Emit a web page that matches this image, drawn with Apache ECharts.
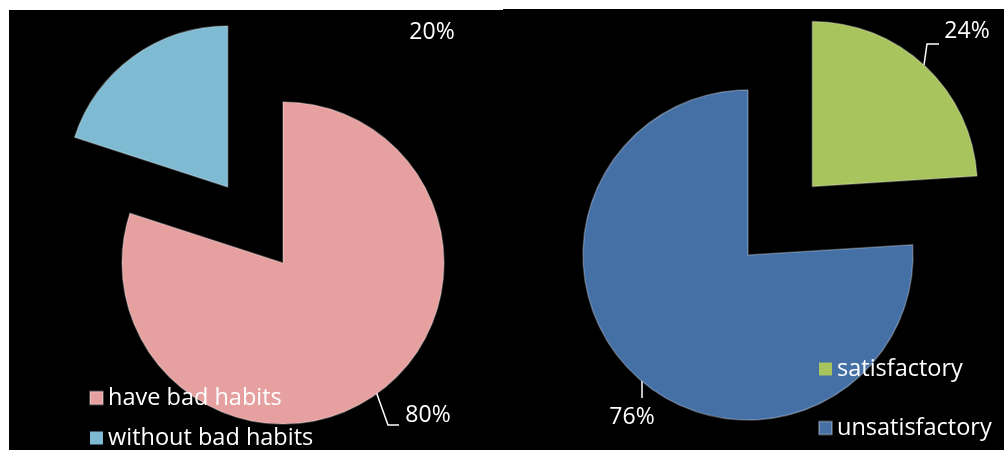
<!DOCTYPE html>
<html>
<head>
<meta charset="utf-8">
<script src="https://cdn.jsdelivr.net/npm/echarts@6/dist/echarts.min.js"></script>
<style>
html,body{margin:0;padding:0;background:#fff;}
#chart{width:1007px;height:450px;}
</style>
</head>
<body>
<div id="chart"></div>
<script>
// Data
const habitCategories = ['have bad habits', 'without bad habits'];
const habitValues = [80, 20];
const habitColors = ['#E6A0A0', '#7EBBD2'];

const satisfCategories = ['satisfactory', 'unsatisfactory'];
const satisfValues = [24, 76];
const satisfColors = ['#A8C45C', '#4570A6'];

const FONT = '"Open Sans", Lato, sans-serif';
const EXPLODE = 94;

// label placements (absolute, manually positioned as in the original)
const leftLabelPos = [
  { x: 428, y: 415, pts: [[373, 383], [388, 425], [399, 425]] },
  { x: 432, y: 32, pts: null }
];
const rightLabelPos = [
  { x: 967, y: 31, pts: [[924, 65], [927, 44], [939, 44]] },
  { x: 632, y: 417, pts: [[642, 368], [642, 398], [642, 398]] }
];

// center of an exploded slice, pushed out along its bisector
function explodedCenter(center, vals, idx, dist) {
  const total = vals.reduce((a, b) => a + b, 0);
  let before = 0;
  for (let i = 0; i < idx; i++) before += vals[i];
  const mid = (90 - 360 * before / total - 180 * vals[idx] / total) * Math.PI / 180;
  return [center[0] + Math.cos(mid) * dist, center[1] - Math.sin(mid) * dist];
}

function buildData(cats, vals, colors, visibleIdx, pos) {
  return cats.map((c, i) => {
    const vis = i === visibleIdx;
    return {
      name: c,
      value: vals[i],
      itemStyle: vis ? { color: colors[i] } : { color: 'rgba(0,0,0,0)', borderWidth: 0 },
      label: { show: vis },
      labelLine: { show: vis && !!pos[i].pts }
    };
  });
}

function layoutFn(posArr) {
  return function (params) {
    const p = posArr[params.dataIndex];
    const r = { x: p.x, y: p.y, align: 'center', verticalAlign: 'middle' };
    if (p.pts) r.labelLinePoints = p.pts;
    return r;
  };
}

function pieSeries(name, center, radius, cats, vals, colors, visibleIdx, pos) {
  return {
    type: 'pie',
    name: name,
    center: center,
    radius: radius,
    startAngle: 90,
    clockwise: true,
    selectedMode: false,
    emphasis: { disabled: true },
    silent: true,
    animation: false,
    itemStyle: { borderColor: 'rgba(255,255,255,0.28)', borderWidth: 1.5 },
    label: {
      show: true,
      formatter: '{c}%',
      color: '#fff',
      fontFamily: FONT,
      fontSize: 23,
      overflow: 'none',
      width: 80
    },
    labelLine: {
      show: true,
      lineStyle: { color: '#fff', width: 1.5 }
    },
    data: buildData(cats, vals, colors, visibleIdx, pos),
    labelLayout: layoutFn(pos)
  };
}

const leftCenter = [283, 263];
const rightCenter = [748, 255];

const chart = echarts.init(document.getElementById('chart'), null, { renderer: 'canvas' });

const legendText = { color: '#fff', fontFamily: FONT, fontSize: 23.5, lineHeight: 26 };

const option = {
  backgroundColor: '#fff',
  animation: false,
  graphic: [
    { type: 'rect', shape: { x: 9, y: 10, width: 494, height: 440 }, style: { fill: '#000' }, z: -10 },
    { type: 'rect', shape: { x: 503, y: 9, width: 501, height: 441 }, style: { fill: '#000' }, z: -10 }
  ],
  legend: [
    {
      data: habitCategories.map((c, i) => ({ name: c, itemStyle: { color: habitColors[i] } })),
      orient: 'vertical',
      left: 89, top: 385,
      width: 300, height: 120,
      padding: 0,
      itemWidth: 13, itemHeight: 13,
      itemGap: 14,
      icon: 'rect',
      selectedMode: false,
      textStyle: legendText
    },
    {
      data: satisfCategories.map((c, i) => ({ name: c, itemStyle: { color: satisfColors[i] } })),
      orient: 'vertical',
      left: 818, top: 356,
      width: 200, height: 120,
      padding: 0,
      itemWidth: 13, itemHeight: 13,
      itemGap: 33,
      icon: 'rect',
      selectedMode: false,
      textStyle: legendText
    }
  ],
  series: [
    pieSeries('habits', leftCenter, 161, habitCategories, habitValues, habitColors, 0, leftLabelPos),
    pieSeries('habits-exploded', explodedCenter(leftCenter, habitValues, 1, EXPLODE), 161,
      habitCategories, habitValues, habitColors, 1, leftLabelPos),
    pieSeries('satisfaction', rightCenter, 165, satisfCategories, satisfValues, satisfColors, 1, rightLabelPos),
    pieSeries('satisfaction-exploded', explodedCenter(rightCenter, satisfValues, 0, EXPLODE), 165,
      satisfCategories, satisfValues, satisfColors, 0, rightLabelPos)
  ]
};

chart.setOption(option);
</script>
</body>
</html>
